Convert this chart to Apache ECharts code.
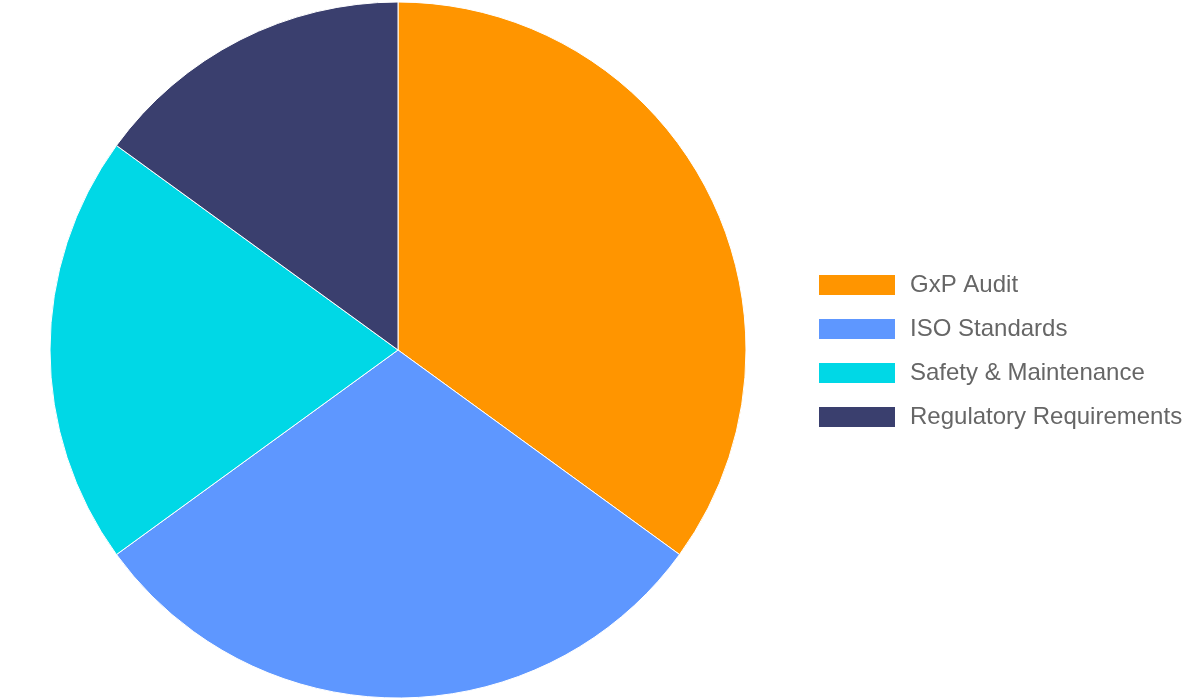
<!DOCTYPE html>
<html>
<head>
<meta charset="utf-8">
<script src="https://cdn.jsdelivr.net/npm/echarts@6/dist/echarts.min.js"></script>
<style>
html,body{margin:0;padding:0;background:#fff;}
#chart{width:1200px;height:700px;}
</style>
</head>
<body>
<div id="chart"></div>
<script>
const categories = ["GxP Audit", "ISO Standards", "Safety & Maintenance", "Regulatory Requirements"];
const values = [35, 30, 20, 15];
const colors = ["#FF9500", "#5E97FF", "#00D8E6", "#3A3F6E"];

const chart = echarts.init(document.getElementById('chart'));
chart.setOption({
  animation: false,
  color: colors,
  legend: {
    orient: 'vertical',
    left: 812,
    top: 268,
    padding: 5,
    itemWidth: 78,
    itemHeight: 22,
    itemGap: 20,
    icon: 'rect',
    textStyle: { fontSize: 24, lineHeight: 22, color: '#666', fontFamily: 'Liberation Sans', padding: [0,0,0,9] },
    data: categories
  },
  series: [{
    type: 'pie',
    center: [398, 350],
    radius: 348,
    startAngle: 90,
    clockwise: true,
    label: { show: false },
    labelLine: { show: false },
    itemStyle: { borderColor: '#fff', borderWidth: 1 },
    emphasis: { disabled: true },
    data: categories.map((c, i) => ({ name: c, value: values[i] }))
  }]
});
</script>
</body>
</html>
